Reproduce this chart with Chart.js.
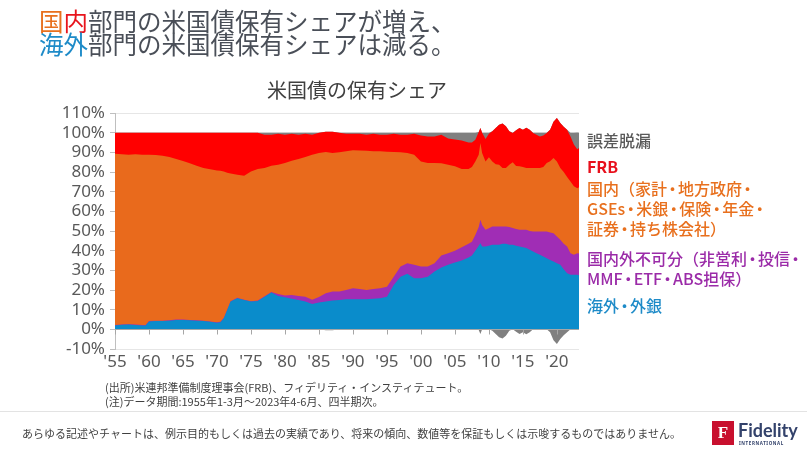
<!DOCTYPE html>
<html><head><meta charset="utf-8">
<script src="https://cdn.jsdelivr.net/npm/chart.js@4.4.0/dist/chart.umd.min.js"></script>
<style>
html,body{margin:0;padding:0;width:807px;height:452px;overflow:hidden;background:#fff;font-family:"Noto Sans CJK JP","Noto Sans",sans-serif;}
#c{position:absolute;left:0;top:0;}
.t{position:absolute;white-space:nowrap;}
.lg{position:absolute;left:587px;white-space:nowrap;font-size:16px;line-height:20px;font-weight:500;}
.d{letter-spacing:-2.5px;margin-left:-2.5px;}
</style></head><body>
<canvas id="c" width="807" height="452"></canvas>
<div class="t" style="left:39px;top:10px;font-size:24.5px;line-height:22.5px;color:#4a4f58;"><span style="color:#e8701e">国</span><span style="color:#e8141c">内</span>部門の米国債保有シェアが増え、<br><span style="color:#1e8bc8">海外</span>部門の米国債保有シェアは減る。</div>
<div class="t" style="left:267px;top:80px;font-size:20px;line-height:20px;color:#404040;">米国債の保有シェア</div>

<div class="lg" style="top:130px;color:#595959;">誤差脱漏</div>
<div class="lg" style="top:156px;color:#e8101c;font-weight:700;">FRB</div>
<div class="lg" style="top:178px;color:#e8701e;">国内（家計<span class="d">・</span>地方政府<span class="d">・</span><br>GSEs<span class="d">・</span>米銀<span class="d">・</span>保険<span class="d">・</span>年金<span class="d">・</span><br>証券<span class="d">・</span>持ち株会社）</div>
<div class="lg" style="top:248px;color:#9b2ba8;">国内外不可分（非営利<span class="d">・</span>投信<span class="d">・</span><br>MMF<span class="d">・</span>ETF<span class="d">・</span>ABS担保）</div>
<div class="lg" style="top:295px;color:#1e8bc8;">海外<span class="d">・</span>外銀</div>

<div class="t" style="left:105px;top:380px;font-size:11px;line-height:14px;color:#404040;">(出所)米連邦準備制度理事会(FRB)、フィデリティ・インスティテュート。<br>(注)データ期間:1955年1-3月～2023年4-6月、四半期次。</div>
<div style="position:absolute;left:0;top:411px;width:807px;height:1px;background:#e3e3e3;"></div>
<div class="t" style="left:22px;top:426px;font-size:11px;line-height:14px;color:#404040;">あらゆる記述やチャートは、例示目的もしくは過去の実績であり、将来の傾向、数値等を保証もしくは示唆するものではありません。</div>
<div style="position:absolute;left:712px;top:421px;width:22px;height:24px;background:#c8102e;color:#fff;font:bold 17px/24px 'Liberation Serif',serif;text-align:center;">F</div>
<div class="t" style="left:738px;top:419px;font:bold 18px/22px Lato,'Noto Sans',sans-serif;color:#33426b;">Fidelity</div>
<div class="t" style="left:739px;top:440px;font:bold 4.5px/6px 'Noto Sans',sans-serif;color:#33426b;letter-spacing:0.6px;">INTERNATIONAL</div>

<script>
// x positions (year, decimal) of each sample
const years = [1955,1956,1957,1958,1959,1959.5,1960,1961,1962,1963,1964,1965,1966,1967,1968,1969,1970,1970.5,1971,1971.5,1972,1973,1974,1975,1976,1977,1978,1979,1980,1981,1982,1983,1984,1985,1986,1987,1988,1989,1990,1991,1992,1993,1994,1995,1996,1997,1998,1999,2000,2001,2002,2003,2004,2005,2006,2007,2007.5,2008,2008.5,2008.75,2009,2009.5,2010,2010.5,2011,2011.5,2012,2012.5,2013,2013.5,2014,2014.5,2015,2015.5,2016,2016.5,2017,2017.5,2018,2018.5,2019,2019.5,2020,2020.5,2021,2021.5,2022,2022.5,2023,2023.25];
// 海外・外銀 (%)
const overseas = [2.0,2.3,2.4,2.2,2.0,2.0,4.0,4.2,4.2,4.4,4.8,4.8,4.6,4.4,4.2,3.8,3.4,3.6,5.6,9.8,14.1,15.8,14.9,14.1,14.4,16.6,18.7,17.0,16.3,15.5,14.9,14.1,12.9,13.6,14.1,14.6,14.9,15.3,15.3,15.3,15.3,15.5,15.8,16.6,22.6,26.8,28.2,26.0,26.0,26.8,29.4,31.5,32.8,34.0,35.0,36.5,37.5,40.0,42.5,43.8,42.1,42.1,42.5,43.0,43.0,43.0,43.5,43.5,43.0,43.0,42.5,42.1,41.7,41.3,40.5,39.6,38.7,37.9,37.0,36.2,35.3,34.5,33.6,32.8,30.5,28.5,27.7,27.7,27.7,27.5];
// 国内外不可分（非営利・投信・MMF・ETF・ABS担保） (%)
const mixed = [0.2,0.2,0.2,0.2,0.2,0.2,0.2,0.2,0.2,0.2,0.2,0.2,0.2,0.2,0.2,0.2,0.2,0.2,0.2,0.2,0.2,0.2,0.2,0.2,0.2,0.2,0.3,1.0,0.9,2.0,2.1,2.5,2.1,2.9,4.2,4.6,4.3,4.7,5.6,5.2,4.7,5.0,5.1,5.1,4.2,5.1,5.4,6.8,5.9,5.1,4.2,6.0,5.9,6.0,6.8,7.0,7.0,8.0,9.5,11.9,11.0,8.5,8.9,9.3,9.3,9.3,8.8,8.8,9.0,8.5,8.5,8.5,8.9,9.3,9.5,10.1,11.0,11.8,12.7,13.5,14.0,14.4,13.6,12.7,13.0,13.6,11.0,10.2,11.0,11.0];
// 国内（家計・地方政府・GSEs・米銀・保険・年金・証券・持ち株会社） (%)
const domestic = [87.1,86.5,86.2,86.6,86.6,86.6,84.6,84.2,83.9,83.0,81.6,80.6,79.7,78.6,77.6,77.4,77.2,76.8,74.4,69.6,65.0,62.6,63.0,66.0,66.9,65.2,64.2,65.7,67.4,68.2,69.6,71.0,73.8,73.1,71.9,70.4,70.8,70.5,70.1,70.4,70.8,70.1,69.6,68.6,63.4,58.1,56.0,56.0,53.5,52.7,51.0,47.0,45.0,42.9,39.7,38.0,38.0,37.4,36.8,39.0,36.5,34.8,36.1,33.1,31.7,31.4,29.7,29.7,31.7,33.5,32.0,32.3,31.9,31.4,32.0,32.3,32.3,32.3,32.8,34.9,36.2,38.2,38.2,36.5,36.5,35.4,36.5,34.8,33.1,33.8];
// FRB (%)
const frb = [10.7,11.0,11.2,11.0,11.2,11.2,11.2,11.4,11.7,12.4,13.4,14.4,15.5,16.8,18.0,18.6,19.2,19.4,19.8,20.4,20.7,21.4,21.9,19.7,18.5,17.0,15.8,15.8,14.4,13.8,12.4,11.9,10.2,10.4,10.3,10.9,10.0,9.0,8.5,8.6,8.2,8.9,8.5,8.7,9.3,9.0,9.4,10.7,13.1,13.4,13.4,14.5,13.3,13.6,14.5,13.5,12.5,11.0,11.5,7.7,10.4,11.4,12.0,15.3,18.4,20.3,22.6,21.2,17.0,14.8,18.2,19.5,19.0,20.5,19.5,17.8,17.0,16.1,16.0,15.2,16.0,18.4,22.1,22.9,23.0,24.0,22.9,21.3,19.8,19.9];
// 誤差脱漏 (%)
const errors = [0,0,0,0,0,0,0,0,0,0,0,0,0,0,0,0,0,0,0,0,0,0,0,0,0,1.0,1.0,0.5,1.0,0.5,1.0,0.5,1.0,0,-0.5,-0.5,0,0.5,0.5,0.5,1.0,0.5,1.0,1.0,0.5,1.0,1.0,0.5,1.5,2.0,2.0,1.0,3.0,3.5,4.0,5.0,5.0,3.6,-0.3,-2.4,0,3.2,0.5,-0.7,-2.4,-4.0,-4.6,-3.2,-0.7,0.2,-1.2,-2.4,-1.5,-2.5,-1.5,0.2,1.0,1.9,1.5,0.2,-1.5,-5.5,-7.5,-4.9,-3.0,-1.5,1.9,6.0,8.5,7.8];

const tickYears = [1955,1960,1965,1970,1975,1980,1985,1990,1995,2000,2005,2010,2015,2020];
const tickLabels = ["'55","'60","'65","'70","'75","'80","'85","'90","'95","'00","'05","'10","'15","'20"];
const yTickValues = [-10,0,10,20,30,40,50,60,70,80,90,100,110];

const colors = {overseas:'#0a8ccb', mixed:'#a02db5', domestic:'#e96a1c', frb:'#ff0000', err:'#808080'};

// cumulative tops for painting (built from the series above)
const topOverseas = years.map((_, i) => overseas[i]);
const topMixed = years.map((_, i) => topOverseas[i] + mixed[i]);
const topDomestic = years.map((_, i) => topMixed[i] + domestic[i]);
const topFrb = years.map((_, i) => topDomestic[i] + frb[i]);
const topErr = years.map((_, i) => topFrb[i] + Math.max(errors[i], 0));
const negErr = years.map((_, i) => Math.min(errors[i], 0));

const pts = arr => years.map((x, i) => ({x, y: arr[i]}));
const ds = (label, arr, color) => ({label, data: pts(arr), backgroundColor: color, borderColor: color, borderWidth: 0, pointRadius: 0, fill: 'origin', tension: 0});

const zeroAxis = {
  id: 'zeroAxis',
  afterDatasetsDraw(chart) {
    const {ctx, chartArea, scales: {x, y}} = chart;
    const y0 = Math.round(y.getPixelForValue(0)) + 0.5;
    ctx.save();
    ctx.strokeStyle = '#a6a6a6';
    ctx.lineWidth = 1;
    ctx.beginPath();
    ctx.moveTo(chartArea.left, y0);
    ctx.lineTo(chartArea.right, y0);
    tickYears.forEach(v => {
      const px = Math.round(x.getPixelForValue(v)) + 0.5;
      ctx.moveTo(px, y0);
      ctx.lineTo(px, y0 + 5);
    });
    ctx.stroke();
    ctx.restore();
  }
};

new Chart(document.getElementById('c'), {
  type: 'line',
  data: {
    datasets: [
      ds('海外・外銀', topOverseas, colors.overseas),
      ds('国内外不可分', topMixed, colors.mixed),
      ds('国内', topDomestic, colors.domestic),
      ds('FRB', topFrb, colors.frb),
      ds('誤差脱漏', topErr, colors.err),
      ds('誤差脱漏(負)', negErr, colors.err)
    ]
  },
  options: {
    responsive: false,
    animation: false,
    devicePixelRatio: 1,
    layout: {padding: {left: 0, right: 228, top: 113, bottom: 75}},
    plugins: {legend: {display: false}, tooltip: {enabled: false}},
    elements: {line: {borderWidth: 0}},
    scales: {
      x: {
        type: 'linear', min: 1955, max: 2023.25,
        afterFit(s) { s.height = 28; },
        afterBuildTicks(s) { s.ticks = tickYears.map(v => ({value: v})); },
        ticks: {
          callback: v => tickLabels[tickYears.indexOf(v)],
          font: {family: "'Noto Sans', sans-serif", size: 17},
          color: '#595959', padding: 3, maxRotation: 0, autoSkip: false
        },
        grid: {display: false, drawTicks: false},
        border: {display: false}
      },
      y: {
        min: -10, max: 110,
        afterFit(s) { s.width = 115; },
        afterBuildTicks(s) { s.ticks = yTickValues.map(v => ({value: v})); },
        ticks: {
          autoSkip: false,
          callback: v => v + '%',
          font: {family: "'Noto Sans', sans-serif", size: 17},
          color: '#595959', padding: 5
        },
        grid: {color: '#e6e6e6', tickLength: 5, tickColor: '#bfbfbf', drawTicks: true},
        border: {display: true, color: '#bfbfbf'}
      }
    }
  },
  plugins: [zeroAxis]
});
</script>
</body></html>
